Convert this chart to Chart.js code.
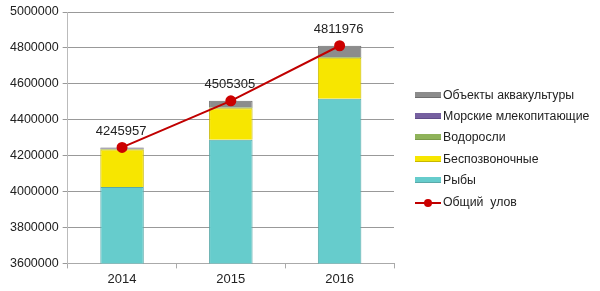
<!DOCTYPE html>
<html>
<head>
<meta charset="utf-8">
<script src="https://cdn.jsdelivr.net/npm/chart.js@4"></script>
<style>
  html, body { margin: 0; padding: 0; background: #fff; }
  #wrap { position: relative; width: 600px; height: 291px; }
  #legend {
    position: absolute; left: 415px; top: 84px;
    font: 12.3px "Liberation Sans", Arial, sans-serif; color: #222;
  }
  #legend .item { display: flex; align-items: center; height: 21.4px; white-space: nowrap; }
  #legend .glyph { width: 26px; height: 10px; margin-right: 2px; position: relative; }
  #legend .box { position: absolute; left: 0; top: 2px; width: 26px; height: 6px; }
</style>
</head>
<body>
<div id="wrap">
  <canvas id="catchChart" width="600" height="291"></canvas>
  <div id="legend"></div>
</div>
<script>
// Years on the x axis
const years = ['2014', '2015', '2016'];

// Stacked parts of the catch (tonnes)
const fish = [4026000, 4288000, 4517000];
const invertebrates = [208000, 176000, 228000];
const algae = [3000, 4000, 4000];
const mammals = [1000, 1000, 1000];
const aquaculture = [7957, 36305, 61976];

// Total catch (line)
const totalCatch = [4245957, 4505305, 4811976];

// Y axis range
const yMin = 3600000;
const yMax = 5000000;
const yStep = 200000;

const FONT = '"Liberation Sans", Arial, sans-serif';

// Draws the total values above the line points
const totalLabels = {
    id: 'totalLabels',
    afterDatasetsDraw(chart) {
        const ctx = chart.ctx;
        const meta = chart.getDatasetMeta(0);
        ctx.save();
        ctx.font = '13px ' + FONT;
        ctx.fillStyle = '#222';
        ctx.textAlign = 'center';
        ctx.textBaseline = 'middle';
        meta.data.forEach((pt, i) => {
            ctx.fillText(String(totalCatch[i]), pt.x - 1, pt.y - 16);
        });
        ctx.restore();
    }
};

const ctx = document.getElementById('catchChart').getContext('2d');
const catchChart = new Chart(ctx, {
    type: 'bar',
    data: {
        labels: years,
        datasets: [
            {
                type: 'line',
                label: 'Общий  улов',
                data: totalCatch,
                borderColor: '#c00000',
                backgroundColor: '#cc0000',
                borderWidth: 2,
                pointRadius: 4.5,
                pointBackgroundColor: '#cc0000',
                pointBorderColor: '#cc0000',
                order: 0
            },
            {
                label: 'Рыбы',
                data: fish,
                backgroundColor: '#66cccc',
                borderColor: '#5aa9a9',
                borderWidth: 1,
                stack: 'catch',
                order: 1
            },
            {
                label: 'Беспозвоночные',
                data: invertebrates,
                backgroundColor: '#f7e600',
                borderColor: '#c8b800',
                borderWidth: 1,
                stack: 'catch',
                order: 1
            },
            {
                label: 'Водоросли',
                data: algae,
                backgroundColor: '#8fb35a',
                borderColor: '#7a9a4a',
                borderWidth: 0,
                stack: 'catch',
                order: 1
            },
            {
                label: 'Морские млекопитающие',
                data: mammals,
                backgroundColor: '#7660a0',
                borderColor: '#604c88',
                borderWidth: 0,
                stack: 'catch',
                order: 1
            },
            {
                label: 'Объекты аквакультуры',
                data: aquaculture,
                backgroundColor: '#8c8c8c',
                borderColor: '#6e6e6e',
                borderWidth: 1,
                stack: 'catch',
                order: 1
            }
        ]
    },
    options: {
        responsive: false,
        animation: false,
        layout: { padding: { top: 12, right: 206, bottom: 1, left: 6 } },
        datasets: {
            bar: { categoryPercentage: 1, barPercentage: 0.4 }
        },
        plugins: {
            tooltip: { enabled: false },
            legend: { display: false }
        },
        scales: {
            x: {
                stacked: true,
                grid: {
                    drawOnChartArea: false,
                    tickLength: 5,
                    color: '#aaa'
                },
                border: { color: '#aaa' },
                ticks: {
                    color: '#222',
                    font: { size: 13, family: FONT }
                }
            },
            y: {
                stacked: true,
                min: yMin,
                max: yMax,
                grid: { color: '#999', tickLength: 5 },
                border: { color: '#bbb' },
                ticks: {
                    stepSize: yStep,
                    padding: 4,
                    color: '#222',
                    font: { size: 12.5, family: FONT },
                    callback: v => String(v)
                }
            }
        }
    },
    plugins: [totalLabels]
});

// HTML legend built from the chart's datasets, in reverse order
const legendEl = document.getElementById('legend');
catchChart.data.datasets.slice().reverse().forEach(ds => {
    const item = document.createElement('div');
    item.className = 'item';
    const glyph = document.createElement('span');
    glyph.className = 'glyph';
    if (ds.type === 'line') {
        glyph.innerHTML =
            '<svg width="26" height="10"><line x1="0" y1="5" x2="26" y2="5" stroke="' + ds.borderColor +
            '" stroke-width="2"/><circle cx="13" cy="5" r="4" fill="' + ds.pointBackgroundColor + '"/></svg>';
    } else {
        const box = document.createElement('span');
        box.className = 'box';
        box.style.background = ds.backgroundColor;
        box.style.boxShadow = 'inset 0 -1px 0 ' + ds.borderColor;
        glyph.appendChild(box);
    }
    const text = document.createElement('span');
    text.textContent = ds.label;
    text.style.whiteSpace = 'pre';
    item.appendChild(glyph);
    item.appendChild(text);
    legendEl.appendChild(item);
});
</script>
</body>
</html>
